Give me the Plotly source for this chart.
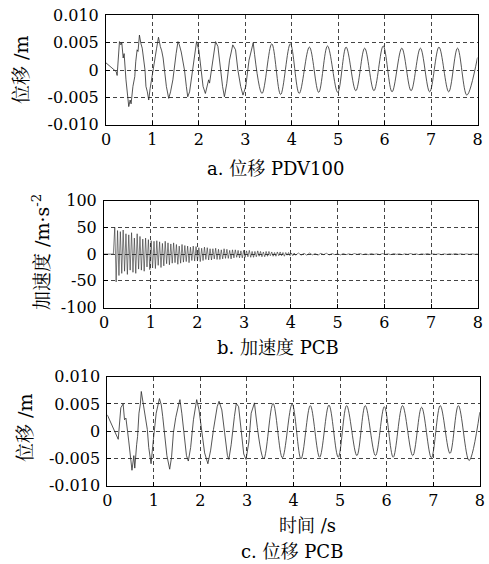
import numpy as np
import plotly.graph_objects as go

W, H = 489, 564

# ---------------- data ----------------
x_ticks = [0, 1, 2, 3, 4, 5, 6, 7, 8]
disp_tickvals = [-0.010, -0.005, 0, 0.005, 0.010]
disp_ticktext = ["-0.010", "-0.005", "0", "0.005", "0.010"]
acc_tickvals = [-100, -50, 0, 50, 100]
acc_ticktext = ["-100", "-50", "0", "50", "100"]

# (a) displacement PDV100 – early, noisy part
a_t_early = [0.00, 0.10, 0.22, 0.24, 0.27, 0.29, 0.32, 0.34, 0.37, 0.39, 0.43, 0.46, 0.49,
             0.52, 0.54, 0.58, 0.62, 0.64, 0.67, 0.69, 0.72, 0.75, 0.78, 0.84, 0.86, 0.89,
             0.92, 0.95, 0.99, 1.03, 1.06, 1.09, 1.13, 1.17, 1.20, 1.23, 1.26, 1.30, 1.35,
             1.39, 1.44, 1.47, 1.51, 1.55, 1.58, 1.62, 1.69, 1.73, 1.76, 1.80, 1.85, 1.88,
             1.92, 1.95, 2.00, 2.05, 2.09, 2.14, 2.18, 2.21, 2.23, 2.27, 2.31, 2.36, 2.41,
             2.46, 2.51, 2.55, 2.60, 2.66, 2.73, 2.79, 2.84, 2.90, 2.95, 3.01, 3.08, 3.17]
a_v_early = [0.0013, 0.0006, -0.0003, -0.0010, 0.0035, 0.0052, 0.0046, 0.0050, 0.0022, 0.0030,
             -0.0018, -0.0040, -0.0067, -0.0055, -0.0062, -0.0030, -0.0012, 0.0015, 0.0037,
             0.0034, 0.0064, 0.0049, 0.0040, 0.0000, -0.0030, -0.0040, -0.0055, -0.0034,
             -0.0010, 0.0010, 0.0024, 0.0040, 0.0060, 0.0043, 0.0035, 0.0022, 0.0000, -0.0030,
             -0.0052, -0.0040, -0.0018, 0.0008, 0.0030, 0.0052, 0.0046, 0.0033, 0.0000,
             -0.0030, -0.0049, -0.0040, -0.0012, 0.0006, 0.0036, 0.0052, 0.0036, 0.0000,
             -0.0030, -0.0043, -0.0030, -0.0018, -0.0024, 0.0000, 0.0030, 0.0052, 0.0043,
             0.0000, -0.0030, -0.0049, -0.0025, 0.0018, 0.0046, 0.0037, 0.0000, -0.0030,
             -0.0046, -0.0030, 0.0018, 0.0050]
# (a) late, smooth part – peaks and troughs
a_t_late = [3.17, 3.36, 3.57, 3.76, 3.97, 4.16, 4.38, 4.58, 4.77, 4.99, 5.17, 5.38, 5.57,
            5.77, 5.97, 6.16, 6.37, 6.57, 6.77, 6.97, 7.17, 7.38, 7.57, 7.77, 8.00]
a_v_late = [0.0050, -0.0043, 0.0048, -0.0045, 0.0048, -0.0043, 0.0042, -0.0041, 0.0044,
            -0.0041, 0.0042, -0.0038, 0.0040, -0.0038, 0.0044, -0.0040, 0.0040, -0.0038,
            0.0040, -0.0040, 0.0042, -0.0040, 0.0040, -0.0046, 0.0023]

# (b) acceleration PCB
acc_pre_t = [0.0]
acc_pre_v = [0.0]
acc_dense_start, acc_dense_step = 0.20, 0.03
acc_dense_v = [
    0, 50, -52, 44, -40, 42, -36, 45, -32, 38,
    -38, 36, -30, 40, -34, 30, -36, 38, -28, 33,
    -30, 28, -32, 30, -24, 27, -29, 25, -26, 24,
    -27, 25, -21, 23, -25, 20, -22, 24, -18, 21,
    -20, 19, -17, 21, -16, 18, -19, 15, -17, 18,
    -15, 16, -14, 15, -16, 13, -12, 15, -13, 14,
    -13, 12, -14, 11, -12, 13, -10, 12, -11, 10,
    -11, 10, -9, 11, -10, 9, -10, 8, -9, 10,
    -8, 9, -8, 7, -9, 8, -7, 8, -6, 7,
    -7, 6, -7, 7, -6, 6, -5, 7, -6, 5,
    -6, 5, -5, 6, -4, 5, -5, 4, -5, 5,
    -4, 5, -3, 4, -4, 3, -4, 4, -3, 4,
    -3, 3, -4, 3, -2, 3, -3, 2, -3, 2,
]
acc_tail_start, acc_tail_step = 4.10, 0.06
acc_tail_v = [
    -2, 2, -2, 1.5, -2, 2, -1.5, 1, -2, 1.5,
    -1, 1.5, -1.5, 1, -1, 0.5, -1.5, 1, -1, 0.5,
    -1, 1, -0.5, 1, -1, 0.5, -1, 1, -0.5, 0.5,
    -1, 1, -0.5, 0.5, -1, 1, -0.5, 0.5, -1, 0.5,
    -0.5, 1, -0.5, 0.5, -1, 0.5, -0.5, 1, -0.5, 0.5,
    -0.5, 0.5, -1, 0.5, -0.5, 0.5, -0.5, 1, -0.5, 0.5,
    -0.5, 0.5, -0.5, 0.5, -0.5, 0.5,
]

# (c) displacement PCB – early, noisy part
c_t_early = [0.00, 0.235, 0.29, 0.34, 0.37, 0.40, 0.46, 0.50, 0.53, 0.57, 0.59, 0.63, 0.65,
             0.68, 0.71, 0.73, 0.76, 0.82, 0.86, 0.89, 0.94, 0.99, 1.01, 1.05, 1.12, 1.16,
             1.19, 1.24, 1.28, 1.34, 1.38, 1.42, 1.47, 1.53, 1.56, 1.60, 1.65, 1.70, 1.74,
             1.79, 1.85, 1.92, 1.97, 2.02, 2.09, 2.16, 2.22, 2.28, 2.36, 2.40, 2.46, 2.52,
             2.58, 2.61, 2.66, 2.73, 2.77, 2.82, 2.87, 2.93, 2.98, 3.04, 3.09, 3.16]
c_v_early = [0.0030, -0.0015, 0.0043, 0.0050, 0.0021, 0.0024, -0.0018, -0.0052, -0.0072,
             -0.0045, -0.0068, -0.0025, -0.0010, 0.0033, 0.0050, 0.0073, 0.0058, 0.0027,
             0.0003, -0.0030, -0.0060, -0.0015, 0.0000, 0.0033, 0.0060, 0.0048, 0.0027,
             -0.0009, -0.0045, -0.0070, -0.0048, -0.0003, 0.0025, 0.0048, 0.0058, 0.0033,
             -0.0003, -0.0045, -0.0055, -0.0030, 0.0021, 0.0058, 0.0039, 0.0003, -0.0040,
             -0.0060, -0.0035, 0.0003, 0.0045, 0.0055, 0.0039, -0.0003, -0.0045, -0.0052,
             -0.0025, 0.0027, 0.0051, 0.0045, 0.0003, -0.0042, -0.0052, -0.0020, 0.0033,
             0.0052]
# (c) late, smooth part – peaks and troughs
c_t_late = [3.16, 3.36, 3.56, 3.76, 3.97, 4.16, 4.36, 4.56, 4.76, 4.96, 5.14, 5.36, 5.54,
            5.76, 5.95, 6.14, 6.34, 6.56, 6.75, 6.96, 7.15, 7.36, 7.54, 7.77, 8.00]
c_v_late = [0.0052, -0.0051, 0.0051, -0.0049, 0.0050, -0.0051, 0.0047, -0.0048, 0.0048,
            -0.0048, 0.0047, -0.0045, 0.0047, -0.0045, 0.0045, -0.0048, 0.0047, -0.0045,
            0.0044, -0.0049, 0.0047, -0.0041, 0.0047, -0.0054, 0.0035]

acc_dense_t = np.round(acc_dense_start + acc_dense_step * np.arange(len(acc_dense_v)), 3)
acc_tail_t = np.round(acc_tail_start + acc_tail_step * np.arange(len(acc_tail_v)), 3)
acc_t = list(acc_pre_t) + list(acc_dense_t) + list(acc_tail_t)
acc_v = list(acc_pre_v) + list(acc_dense_v) + list(acc_tail_v)

# ---------------- figure ----------------
FONT = "DejaVu Serif, Noto Serif CJK SC, Noto Sans CJK SC, serif"
LINE = "#2a2a2a"

fig = go.Figure()
fig.add_trace(go.Scatter(x=a_t_early, y=a_v_early, mode="lines", xaxis="x", yaxis="y",
                         line=dict(color=LINE, width=0.8), showlegend=False))
fig.add_trace(go.Scatter(x=a_t_late, y=a_v_late, mode="lines", xaxis="x", yaxis="y",
                         line=dict(color=LINE, width=0.8, shape="spline", smoothing=1.0),
                         showlegend=False))
fig.add_trace(go.Scatter(x=acc_t, y=acc_v, mode="lines", xaxis="x2", yaxis="y2",
                         line=dict(color=LINE, width=0.6), showlegend=False))
fig.add_trace(go.Scatter(x=c_t_early, y=c_v_early, mode="lines", xaxis="x3", yaxis="y3",
                         line=dict(color=LINE, width=0.8), showlegend=False))
fig.add_trace(go.Scatter(x=c_t_late, y=c_v_late, mode="lines", xaxis="x3", yaxis="y3",
                         line=dict(color=LINE, width=0.8, shape="spline", smoothing=1.0),
                         showlegend=False))


def px_x(p):
    return p / W


def px_y(p):
    return 1 - p / H


def xax(domain, anchor):
    return dict(domain=domain, anchor=anchor, range=[0, 8], tickvals=x_ticks,
                ticktext=[str(v) for v in x_ticks], ticks="inside", ticklen=4,
                tickcolor="black", showline=True, mirror=True, linecolor="black",
                linewidth=1, showgrid=True, gridcolor="#444", gridwidth=1,
                griddash="4px,3px", zeroline=False, automargin=False,
                tickfont=dict(family=FONT, size=16, color="black"))


def yax(domain, anchor, rng, vals, text):
    return dict(domain=domain, anchor=anchor, range=rng, tickvals=vals, ticktext=text,
                ticks="inside", ticklen=4, tickcolor="black", showline=True, mirror=True,
                linecolor="black", linewidth=1, showgrid=True, gridcolor="#444",
                gridwidth=1, griddash="4px,3px", zeroline=False, ticklabelstandoff=3,
                automargin=False,
                tickfont=dict(family=FONT, size=16, color="black"))


fig.update_layout(
    template="none",
    width=W, height=H, autosize=False,
    margin=dict(l=0, r=0, t=0, b=0, pad=0),
    paper_bgcolor="white", plot_bgcolor="white",
    xaxis=xax([px_x(106), px_x(477.5)], "y"),
    yaxis=yax([px_y(124.6), px_y(15.4)], "x", [-0.010, 0.010], disp_tickvals, disp_ticktext),
    xaxis2=xax([px_x(104), px_x(477.8)], "y2"),
    yaxis2=yax([px_y(307.6), px_y(200.6)], "x2", [-100, 100], acc_tickvals, acc_ticktext),
    xaxis3=xax([px_x(107.3), px_x(479.8)], "y3"),
    yaxis3=yax([px_y(485.5), px_y(376.8)], "x3", [-0.010, 0.010], disp_tickvals, disp_ticktext),
)

notes = [
    ("a. 位移 PDV100", 275, 169, 0, 18),
    ("b. 加速度 PCB", 278, 347, 0, 18),
    ("时间 /s", 307, 525, 0, 18),
    ("c. 位移 PCB", 292, 551, 0, 18),
    ("位移 /m", 21, 70, -90, 19),
    ("加速度 /m·s<sup>-2</sup>", 41, 252, -90, 19),
    ("位移 /m", 25, 428, -90, 19),
]
for text, x, y, ang, size in notes:
    fig.add_annotation(text=text, x=px_x(x), y=px_y(y), xref="paper", yref="paper",
                       xanchor="center", yanchor="middle", showarrow=False, textangle=ang,
                       font=dict(family=FONT, size=size, color="black"))

fig.write_html("out.html",
               config={"displayModeBar": False},
               post_script="document.body.style.margin='0';"
                           "document.body.style.overflow='hidden';")
